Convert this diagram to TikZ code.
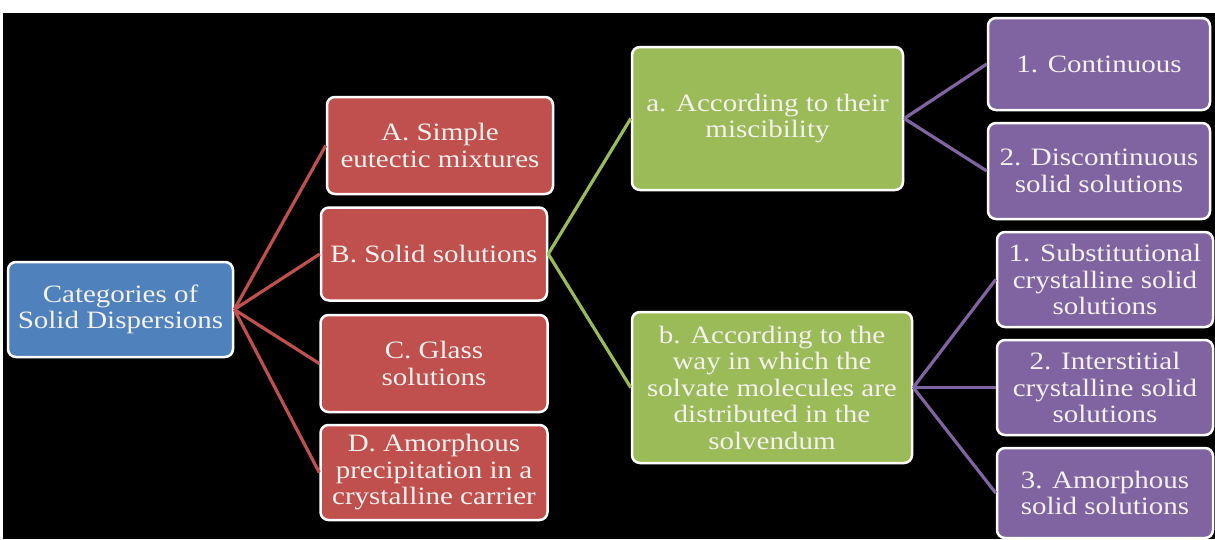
\documentclass[tikz,border=0pt]{standalone}
\usepackage{fontspec}
\setmainfont{Liberation Serif}[FakeStretch=1.16]
\definecolor{cblue}{HTML}{4F81BD}
\definecolor{cred}{HTML}{C0504D}
\definecolor{cgreen}{HTML}{9BBB59}
\definecolor{cpurple}{HTML}{8064A2}
\definecolor{ctext}{HTML}{F4F1EE}
\tikzset{
  box/.style={draw=white, line width=2.5pt, rounded corners=8pt, align=center,
    inner sep=2pt, text=ctext, font=\fontsize{25}{26.5}\selectfont},
  bluebox/.style={box, fill=cblue},
  redbox/.style={box, fill=cred},
  greenbox/.style={box, fill=cgreen},
  purplebox/.style={box, fill=cpurple},
  link/.style={line width=3.2pt},
}
\begin{document}
\begin{tikzpicture}[x=1pt,y=-1pt]
\useasboundingbox (0,0) rectangle (1215,539);
\fill[white] (0,0) rectangle (1215,539);
\fill[black] (3,13) rectangle (1215,539);
% nodes
\node[bluebox, minimum width=225pt, minimum height=95pt] (root) at (120.5,309.5) {Categories of\\Solid Dispersions};
\node[redbox, minimum width=226pt, minimum height=97pt] (A) at (440,145.5) {A. Simple\\eutectic mixtures};
\node[redbox, minimum width=226pt, minimum height=93pt] (B) at (434,254) {B. Solid solutions};
\node[redbox, minimum width=227pt, minimum height=97pt] (C) at (434,363.5) {C. Glass\\solutions};
\node[redbox, minimum width=227pt, minimum height=95pt] (D) at (434,472.5) {D. Amorphous\\precipitation in a\\crystalline carrier};
\node[greenbox, minimum width=271pt, minimum height=143pt] (ga) at (767.5,118.5) {a. According to their\\miscibility};
\node[greenbox, minimum width=280pt, minimum height=151pt] (gb) at (772,387.5) {b. According to the\\way in which the\\solvate molecules are\\distributed in the\\solvendum};
\node[purplebox, minimum width=222pt, minimum height=92pt] (p1) at (1099,64) {1. Continuous};
\node[purplebox, minimum width=222pt, minimum height=96pt] (p2) at (1099,171) {2. Discontinuous\\solid solutions};
\node[purplebox, minimum width=216pt, minimum height=95pt] (p3) at (1105,279.5) {1. Substitutional\\crystalline solid\\solutions};
\node[purplebox, minimum width=216pt, minimum height=95pt] (p4) at (1105,387.5) {2. Interstitial\\crystalline solid\\solutions};
\node[purplebox, minimum width=216pt, minimum height=90pt] (p5) at (1105,493) {3. Amorphous\\solid solutions};
% connectors
\draw[link, cred] (root.east) -- (A.west);
\draw[link, cred] (root.east) -- (B.west);
\draw[link, cred] (root.east) -- (C.west);
\draw[link, cred] (root.east) -- (D.west);
\draw[link, cgreen] (B.east) -- (ga.west);
\draw[link, cgreen] (B.east) -- (gb.west);
\draw[link, cpurple] (ga.east) -- (p1.west);
\draw[link, cpurple] (ga.east) -- (p2.west);
\draw[link, cpurple] (gb.east) -- (p3.west);
\draw[link, cpurple] (gb.east) -- (p4.west);
\draw[link, cpurple] (gb.east) -- (p5.west);
\end{tikzpicture}
\end{document}
